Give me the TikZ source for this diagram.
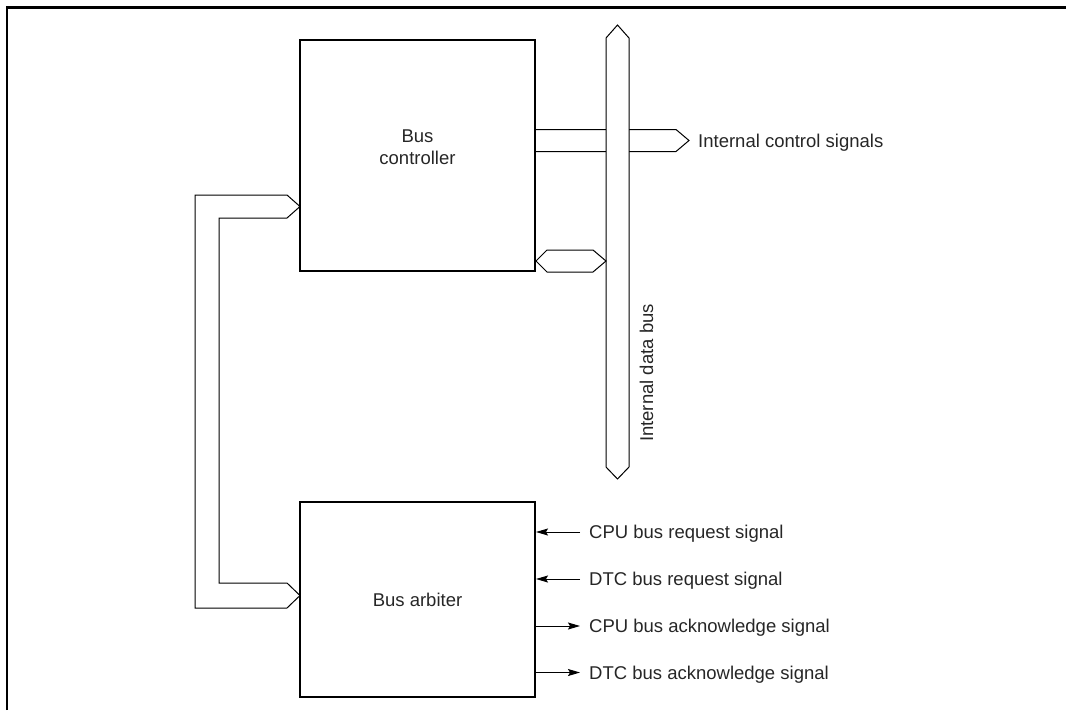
\documentclass[tikz,border=0pt]{standalone}
\usepackage{fontspec}
\setmainfont{Liberation Sans}
\usetikzlibrary{arrows.meta,positioning,calc}

\begin{document}
\begin{tikzpicture}[x=1pt,y=-1pt,
    blk/.style={draw, line width=2pt, minimum width=235pt, inner sep=0pt},
    bus/.style={draw, line width=1pt, line join=miter},
    txt/.style={font=\fontsize{18.5}{22}\selectfont, text=black!85, inner sep=0pt},
    sig/.style={txt, anchor=west, text height=13pt, text depth=0pt},
    sigarr/.style={line width=1pt, -{Stealth[length=12pt,width=7pt,inset=2pt]}}]
  \useasboundingbox (0,0) rectangle (1066,710);
  % frame
  \draw[line width=2.5pt] (7,710) -- (7,7.5) -- (1066,7.5);
  % Bus controller
  \node[blk, minimum height=231pt] (ctrl) at (417.5,155.5) {};
  \node[txt, align=center] (ctrltxt) at ([yshift=8pt]ctrl.center) {Bus\\controller};
  % Bus arbiter
  \node[blk, minimum height=195pt] (arb) at (417.5,599.5) {};
  \node[txt] (arbtxt) at (arb.center) {Bus arbiter};
  % internal control signals
  \coordinate (cstip) at (689,140.5);
  \draw[bus] (535,129.5) -- (676,129.5) -- (cstip) -- (676,151.5) -- (535,151.5);
  \node[sig, right=9pt of cstip] (cstxt) {Internal control signals};
  % internal data bus
  \draw[bus, fill=white] (617.5,25) -- (629,38) -- (629,467) -- (617.5,479)
    -- (606,467) -- (606,38) -- cycle;
  \node[sig, rotate=90, anchor=center] (dbustxt) at (646.5,373) {Internal data bus};
  \draw[bus] (536,261) -- (547,250) -- (593,250) -- (606,261) -- (593,272)
    -- (547,272) -- cycle;
  % controller <-> arbiter
  \draw[bus] (300,206.5) -- (287,195) -- (195,195) -- (195,608) -- (287,608)
    -- (300,595.5) -- (287,583) -- (219,583) -- (219,218) -- (287,218) -- cycle;
  % arbiter signals
  \node[sig] (cpureq) at (589,532) {CPU bus request signal};
  \node[sig] (dtcreq) at (589,579) {DTC bus request signal};
  \node[sig] (cpuack) at (589,626) {CPU bus acknowledge signal};
  \node[sig] (dtcack) at (589,672.5) {DTC bus acknowledge signal};
  \draw[sigarr] ([xshift=-9pt]cpureq.west) -- (cpureq.west -| arb.east);
  \draw[sigarr] ([xshift=-9pt]dtcreq.west) -- (dtcreq.west -| arb.east);
  \draw[sigarr] (cpuack.west -| arb.east) -- ([xshift=-9pt]cpuack.west);
  \draw[sigarr] (dtcack.west -| arb.east) -- ([xshift=-9pt]dtcack.west);
\end{tikzpicture}
\end{document}
